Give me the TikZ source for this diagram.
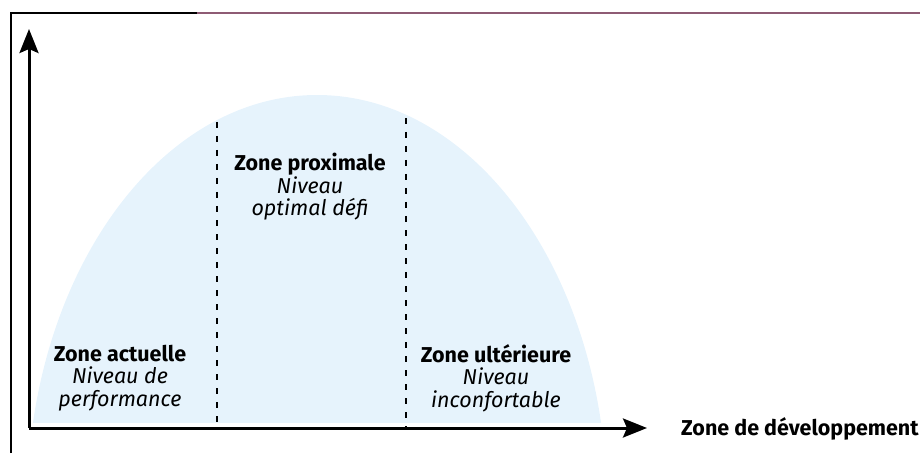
\documentclass[tikz,border=0pt]{standalone}
\usepackage{fontspec}
\setmainfont{Fira Sans}
\usepackage{tikz}
\usetikzlibrary{arrows.meta}
\definecolor{zonebleu}{RGB}{230,243,252}
\definecolor{cadremauve}{RGB}{142,91,116}
\tikzset{
    axe/.style={line width=3pt,-{Stealth[length=24pt,width=19pt,inset=4pt]}},
    limite/.style={line width=2pt,dash pattern=on 6pt off 8pt},
    zonetxt/.style={align=center,inner sep=0pt,font=\fontsize{21.5}{22.5}\selectfont}
}

\begin{document}
\begin{tikzpicture}[x=1pt,y=1pt]
\useasboundingbox (0,0) rectangle (920,453);
\coordinate (o) at (29,25); \coordinate (ytip) at (29,424); \coordinate (xtip) at (647,25);
\coordinate (d1) at (217,331); \coordinate (d1b) at (217,25);
\coordinate (d2) at (406,335); \coordinate (d2b) at (406,25);
% cadre
\draw[line width=1.5pt] (11,0) -- (11,440) -- (197,440);
\draw[line width=2pt,cadremauve] (197,440) -- (920,440);
% zone bleue
\begin{scope}
\clip (33,31) rectangle (700,453);
\fill[zonebleu] (317,-53) ellipse (290 and 411);
\end{scope}
\draw[limite] (d1) -- (d1b);
\draw[limite] (d2) -- (d2b);
\draw[axe] (o) -- (ytip);
\draw[axe] (o) -- (xtip);
\node[zonetxt] (actuelle) at (120,75) {\textbf{Zone actuelle}\\\textit{Niveau de}\\\textit{performance}};
\node[zonetxt] (proximale) at (310,266) {\textbf{Zone proximale}\\\textit{Niveau}\\\textit{optimal défi}};
\node[zonetxt] (ulterieure) at (496,75) {\textbf{Zone ultérieure}\\\textit{Niveau}\\\textit{inconfortable}};
\node[zonetxt,anchor=west] (dev) at (681,24) {\textbf{Zone de développement}};
\end{tikzpicture}
\end{document}
